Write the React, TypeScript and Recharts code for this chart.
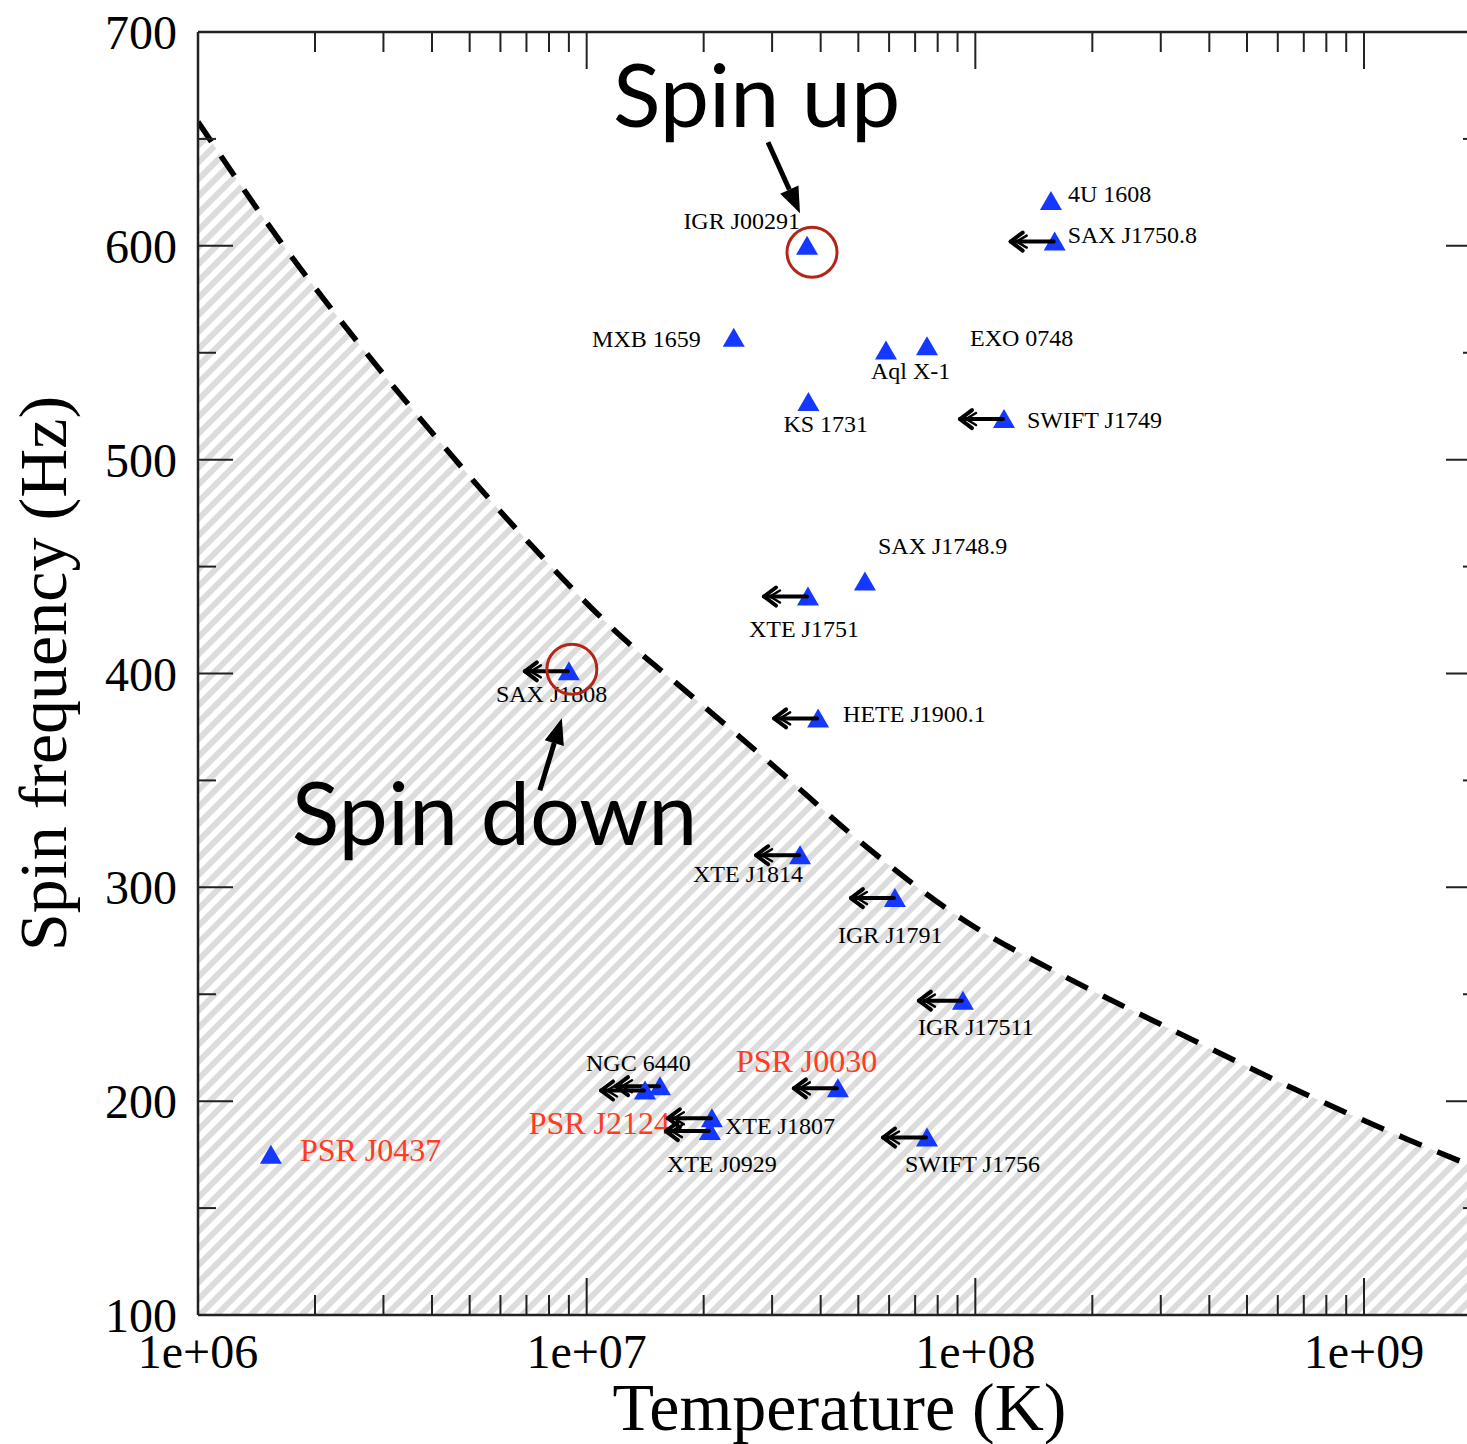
import React from 'react';
import {
  ComposedChart,
  XAxis,
  YAxis,
  Area,
  Line,
  Scatter,
  ReferenceDot,
  ReferenceLine,
} from 'recharts';

// Accreting millisecond pulsars / LMXBs: core temperature vs spin frequency
const SOURCES = [
  'IGR J00291', '4U 1608', 'SAX J1750.8', 'MXB 1659', 'Aql X-1', 'EXO 0748',
  'KS 1731', 'SWIFT J1749', 'SAX J1748.9', 'XTE J1751', 'SAX J1808', 'HETE J1900.1',
  'XTE J1814', 'IGR J1791', 'IGR J17511', 'NGC 6440', 'PSR J2124', 'PSR J0030',
  'XTE J1807', 'XTE J0929', 'SWIFT J1756', 'PSR J0437',
];
const TEMPERATURES = [
  3.69e7, 1.565e8, 1.6e8, 2.39e7, 5.89e7, 7.51e7,
  3.72e7, 1.185e8, 5.2e7, 3.71e7, 9.0e6, 3.94e7,
  3.54e7, 6.21e7, 9.29e7, 1.544e7, 1.413e7, 4.43e7,
  2.1e7, 2.075e7, 7.51e7, 1.54e6,
];
const SPIN_FREQS = [
  600, 621, 602, 557, 551, 553,
  527, 519, 443, 436, 401, 379,
  315, 295, 247, 207, 205, 206,
  192, 186, 183, 175,
];
// temperature is only an upper limit for these
const UPPER_LIMITS = [
  false, false, true, false, false, false,
  false, true, false, true, true, true,
  true, true, true, true, true, true,
  true, true, true, false,
];
const RADIO_PULSARS = ['PSR J2124', 'PSR J0030', 'PSR J0437'];

// r-mode instability boundary
const CURVE_T = [1e6, 1.63e6, 2.6e6, 4.3e6, 7.2e6, 1.25e7, 1.74e7, 3.06e7, 4.93e7, 9.46e7, 1.67e8, 3.41e8, 6.56e8, 1.3e9, 2e9];
const CURVE_F = [658, 602, 554, 506, 460, 416, 394, 356, 323, 284, 259, 231, 206, 182, 168];

const T_MAJOR = [1e6, 1e7, 1e8, 1e9];
const T_TICKS = [
  1e6, 2e6, 3e6, 4e6, 5e6, 6e6, 7e6, 8e6, 9e6,
  1e7, 2e7, 3e7, 4e7, 5e7, 6e7, 7e7, 8e7, 9e7,
  1e8, 2e8, 3e8, 4e8, 5e8, 6e8, 7e8, 8e8, 9e8,
  1e9,
];
const F_TICKS = [100, 150, 200, 250, 300, 350, 400, 450, 500, 550, 600, 650, 700];

// circled sources: [T, f] of circle centre
const SPIN_UP_MARK = [3.8e7, 597];
const SPIN_DOWN_MARK = [9.16e6, 402];

const points = SOURCES.map((name, i) => ({
  name,
  T: TEMPERATURES[i],
  f: SPIN_FREQS[i],
  limit: UPPER_LIMITS[i],
  pulsar: RADIO_PULSARS.includes(name),
}));
const curve = CURVE_T.map((T, i) => ({ T, f: CURVE_F[i] }));

// label placement relative to the marker (baseline offset)
const LABEL_POS: Record<string, [number, number, 'start' | 'end']> = {
  'IGR J00291': [-7, -17, 'end'],
  '4U 1608': [17, 1, 'start'],
  'SAX J1750.8': [13, 1, 'start'],
  'MXB 1659': [-33, 9, 'end'],
  'Aql X-1': [-15, 28, 'start'],
  'EXO 0748': [43, 0, 'start'],
  'KS 1731': [-25, 30, 'start'],
  'SWIFT J1749': [23, 9, 'start'],
  'SAX J1748.9': [13, -28, 'start'],
  'XTE J1751': [-59, 40, 'start'],
  'SAX J1808': [-73, 31, 'start'],
  'HETE J1900.1': [25, 4, 'start'],
  'XTE J1814': [-107, 27, 'start'],
  'IGR J1791': [-57, 45, 'start'],
  'IGR J17511': [-45, 34, 'start'],
  'NGC 6440': [-74, -15, 'start'],
  'PSR J2124': [25, 44, 'end'],
  'PSR J0030': [-102, -16, 'start'],
  'XTE J1807': [13, 16, 'start'],
  'XTE J0929': [-43, 41, 'start'],
  'SWIFT J1756': [-22, 34, 'start'],
  'PSR J0437': [29, 6, 'start'],
};

const CHART_W = 1500;
const CHART_H = 1444;
const PLOT_LEFT = 198;
const PLOT_TOP = 32;
const PLOT_W = 1283;
const PLOT_H = 1283;
const Y_AXIS_W = 80;
const X_AXIS_H = 60;

const SERIF = '"Liberation Serif", "Times New Roman", serif';
const SANS = 'Lato, "Open Sans", sans-serif';
const INK = '#222';

const fmtExp = (v: number) => {
  const [m, e] = v.toExponential(0).split('e');
  const sign = e[0];
  const digits = e.slice(1).padStart(2, '0');
  return `${m}e${sign}${digits}`;
};

const XTick = (props: any) => {
  const { x, y, payload } = props;
  const major = T_MAJOR.includes(payload.value);
  const len = major ? 37 : 20;
  return (
    <g>
      <line x1={x} x2={x} y1={y} y2={y - len} stroke={INK} strokeWidth={2} />
      <line x1={x} x2={x} y1={y - PLOT_H} y2={y - PLOT_H + len} stroke={INK} strokeWidth={2} />
      {major && (
        <text x={x} y={y + 53} textAnchor="middle" fontSize={48} fontFamily={SERIF} fill="#000">
          {fmtExp(payload.value)}
        </text>
      )}
    </g>
  );
};

const YTick = (props: any) => {
  const { x, y, payload } = props;
  const major = payload.value % 100 === 0;
  const len = major ? 35 : 18;
  return (
    <g>
      <line x1={x} x2={x + len} y1={y} y2={y} stroke={INK} strokeWidth={2} />
      <line x1={x + PLOT_W} x2={x + PLOT_W - len} y1={y} y2={y} stroke={INK} strokeWidth={2} />
      {major && (
        <text x={x - 21} y={y + 17} textAnchor="end" fontSize={48} fontFamily={SERIF} fill="#000">
          {payload.value}
        </text>
      )}
    </g>
  );
};

const XTitle = (props: any) => {
  const { viewBox } = props;
  return (
    <text
      x={viewBox.x + viewBox.width / 2}
      y={viewBox.y + 115}
      textAnchor="middle"
      fontSize={68}
      fontFamily={SERIF}
      fill="#000"
    >
      Temperature (K)
    </text>
  );
};

const YTitle = (props: any) => {
  const { viewBox } = props;
  const cy = viewBox.y + viewBox.height / 2;
  return (
    <text
      x={66}
      y={cy}
      transform={`rotate(-90, 66, ${cy})`}
      textAnchor="middle"
      fontSize={68}
      fontFamily={SERIF}
      fill="#000"
    >
      Spin frequency (Hz)
    </text>
  );
};

// triangle marker, optional upper-limit arrow and source name
const SourceMarker = (props: any) => {
  const { cx, cy, payload } = props;
  if (cx == null || cy == null) return null;
  const [dx, dy, anchor] = LABEL_POS[payload.name] || [14, 8, 'start'];
  return (
    <g>
      <polygon
        points={`${cx},${cy - 10} ${cx - 11},${cy + 9} ${cx + 11},${cy + 9}`}
        fill="#1438ff"
      />
      {payload.limit && (
        <g stroke="#000" strokeWidth={4} fill="none" strokeLinecap="round" strokeLinejoin="round">
          <line x1={cx - 1} y1={cy} x2={cx - 44} y2={cy} />
          <polyline points={`${cx - 32},${cy - 9} ${cx - 44},${cy} ${cx - 32},${cy + 9}`} />
          <polyline points={`${cx - 28},${cy - 6} ${cx - 38},${cy} ${cx - 28},${cy + 6}`} strokeWidth={2.5} />
        </g>
      )}
      <text
        x={cx + dx}
        y={cy + dy}
        textAnchor={anchor}
        fontFamily={SERIF}
        fontSize={payload.pulsar ? 32 : 24}
        fill={payload.pulsar ? '#ff3b22' : '#000'}
      >
        {payload.name}
      </text>
    </g>
  );
};

const Pointer = ({ x1, y1, x2, y2 }: { x1: number; y1: number; x2: number; y2: number }) => {
  const ang = Math.atan2(y2 - y1, x2 - x1);
  const headLen = 26;
  const headHalf = 10;
  const bx = x2 - headLen * Math.cos(ang);
  const by = y2 - headLen * Math.sin(ang);
  const px = -Math.sin(ang) * headHalf;
  const py = Math.cos(ang) * headHalf;
  return (
    <g>
      <line x1={x1} y1={y1} x2={bx} y2={by} stroke="#000" strokeWidth={5} />
      <polygon points={`${x2},${y2} ${bx + px},${by + py} ${bx - px},${by - py}`} fill="#000" />
    </g>
  );
};

const SpinUpMark = (props: any) => {
  const { cx, cy } = props;
  return (
    <g>
      <circle cx={cx} cy={cy} r={25} fill="none" stroke="#b3261a" strokeWidth={3} />
      <Pointer x1={cx - 44} y1={cy - 110} x2={cx - 12} y2={cy - 39} />
      <text x={cx - 199} y={cy - 125} fontFamily={SANS} fontSize={88} fill="#000">
        Spin up
      </text>
    </g>
  );
};

const SpinDownMark = (props: any) => {
  const { cx, cy } = props;
  return (
    <g>
      <circle cx={cx} cy={cy} r={25} fill="none" stroke="#b3261a" strokeWidth={3} />
      <Pointer x1={cx - 32} y1={cy + 121} x2={cx - 10} y2={cy + 49} />
      <text x={cx - 280} y={cy + 176} fontFamily={SANS} fontSize={88} fill="#000">
        Spin down
      </text>
    </g>
  );
};

export default function App() {
  return (
    <div
      style={{
        position: 'absolute',
        left: 0,
        top: 0,
        width: 1467,
        height: 1444,
        overflow: 'hidden',
        background: '#fff',
      }}
    >
      <ComposedChart
        width={CHART_W}
        height={CHART_H}
        margin={{
          top: PLOT_TOP,
          left: PLOT_LEFT - Y_AXIS_W,
          right: CHART_W - PLOT_LEFT - PLOT_W,
          bottom: CHART_H - PLOT_TOP - PLOT_H - X_AXIS_H,
        }}
      >
        <defs>
          <pattern
            id="hatch"
            patternUnits="userSpaceOnUse"
            width={12}
            height={12}
            patternTransform="rotate(-45)"
          >
            <rect x={0} y={0} width={12} height={6} fill="#dcdcdc" />
          </pattern>
        </defs>

        <Area
          data={curve}
          dataKey="f"
          type="monotone"
          stroke="none"
          fill="url(#hatch)"
          fillOpacity={1}
          isAnimationActive={false}
        />
        <Line
          data={curve}
          dataKey="f"
          type="monotone"
          stroke="#000"
          strokeWidth={5.5}
          strokeDasharray="24 17"
          dot={false}
          activeDot={false}
          isAnimationActive={false}
        />
        <Scatter data={points} dataKey="f" shape={SourceMarker} isAnimationActive={false} />

        <ReferenceDot x={SPIN_UP_MARK[0]} y={SPIN_UP_MARK[1]} r={25} shape={SpinUpMark} />
        <ReferenceDot x={SPIN_DOWN_MARK[0]} y={SPIN_DOWN_MARK[1]} r={25} shape={SpinDownMark} />

        <ReferenceLine y={700} stroke={INK} strokeWidth={2.5} />

        <XAxis
          dataKey="T"
          type="number"
          scale="log"
          domain={[1e6, 2e9]}
          allowDataOverflow
          ticks={T_TICKS}
          interval={0}
          tickSize={0}
          tickMargin={0}
          tickLine={false}
          tick={XTick}
          height={X_AXIS_H}
          axisLine={{ stroke: INK, strokeWidth: 2.5 }}
          label={<XTitle />}
        />
        <YAxis
          dataKey="f"
          type="number"
          domain={[100, 700]}
          allowDataOverflow
          ticks={F_TICKS}
          interval={0}
          tickSize={0}
          tickMargin={0}
          tickLine={false}
          tick={YTick}
          width={Y_AXIS_W}
          axisLine={{ stroke: INK, strokeWidth: 2.5 }}
          label={<YTitle />}
        />
      </ComposedChart>
    </div>
  );
}
